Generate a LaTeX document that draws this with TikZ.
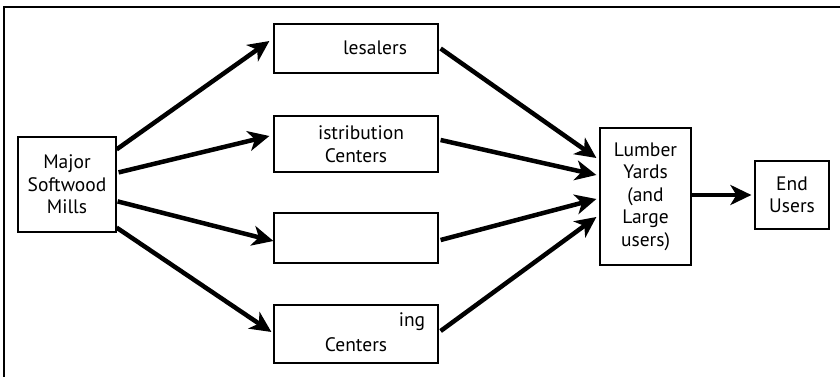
\documentclass[tikz,border=0pt]{standalone}
\usepackage{fontspec}
\setmainfont{PT Sans}
\usetikzlibrary{arrows.meta,calc}
\begin{document}
\begin{tikzpicture}[x=1pt,y=-1pt,
  box/.style={draw,line width=1.2pt,inner sep=0pt,fill=white},
  lbl/.style={inner sep=0pt,align=center,font=\fontsize{19.5}{22.5}\selectfont},
  flow/.style={line width=4.5pt,-{Stealth[length=21pt,width=20pt,inset=6pt]}}]
\useasboundingbox (0,0) rectangle (840,377);
\draw[line width=2pt] (4,377) -- (4,7) -- (840,7);
% boxes
\node[box,minimum width=98pt,minimum height=95pt] (mills) at (67,184.5) {};
\node[box,minimum width=164pt,minimum height=49pt] (whole) at (356,48.5) {};
\node[box,minimum width=164pt,minimum height=56pt] (dist) at (356,144) {};
\node[box,minimum width=164pt,minimum height=50pt] (third) at (356,238) {};
\node[box,minimum width=164pt,minimum height=58pt] (fourth) at (356,334) {};
\node[box,minimum width=91pt,minimum height=137pt] (lumber) at (645.5,196.5) {};
\node[box,minimum width=74pt,minimum height=68pt] (endu) at (792,195) {};
% labels
\node[lbl] (tmills) at (mills) {Major\\Softwood\\Mills};
\node[lbl] (twhole) at (375,48) {lesalers};
\node[lbl] (tdist1) at (361,133) {istribution};
\node[lbl] (tdist2) at (356,156) {Centers};
\node[lbl] (tfour1) at (412,322) {ing};
\node[lbl] (tfour2) at (356,345) {Centers};
\node[lbl] (tlumber) at (lumber) {Lumber\\Yards\\(and\\Large\\users)};
\node[lbl] (tend) at (endu) {End\\Users};
% connectors
\draw[flow] ($(mills.north east)+(0,13)$) -- ($(whole.west)+(-4,-7.5)$);
\draw[flow] ($(mills.north east)+(2,36)$) -- ($(dist.west)+(-4,-8)$);
\draw[flow] ($(mills.north east)+(1,65)$) -- ($(third.west)+(0,3)$);
\draw[flow] ($(mills.south east)+(0,-5)$) -- ($(fourth.west)+(-2,-2)$);
\draw[flow] ($(whole.east)+(2,0)$) -- ($(lumber.west)+(-3,-38.5)$);
\draw[flow] ($(dist.east)+(2,-4)$) -- ($(lumber.west)+(-3,-21.5)$);
\draw[flow] ($(third.east)+(2,2)$) -- ($(lumber.west)+(-3,2.5)$);
\draw[flow] ($(fourth.east)+(2,-3)$) -- ($(lumber.west)+(-3,20.5)$);
\draw[flow] (lumber.east |- endu) -- ($(endu.west)+(-3,0)$);
\end{tikzpicture}
\end{document}
